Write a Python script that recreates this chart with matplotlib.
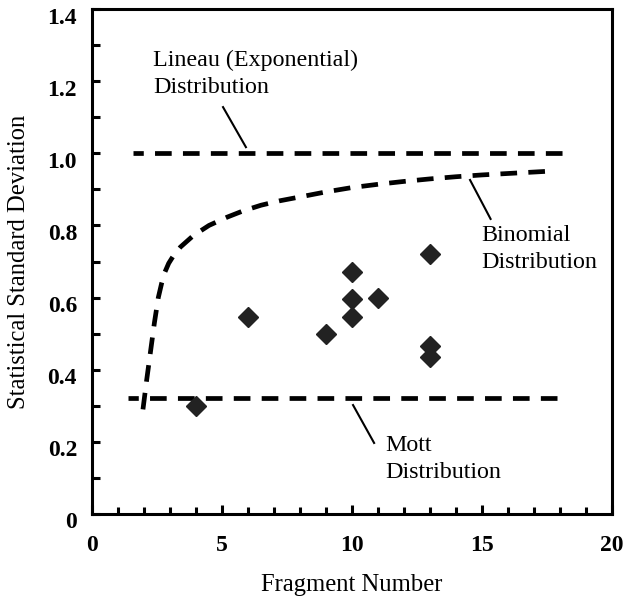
import matplotlib
matplotlib.use("Agg")
import matplotlib.pyplot as plt
from matplotlib.ticker import FixedLocator, MultipleLocator, NullFormatter
from matplotlib.transforms import ScaledTranslation

plt.rcParams['font.family'] = ['Liberation Serif', 'DejaVu Serif']
plt.rcParams['lines.scale_dashes'] = False

# measured fragment data
frag_n = [4, 6, 9, 10, 10, 10, 11, 13, 13, 13]
frag_sd = [0.30, 0.545, 0.50, 0.672, 0.595, 0.545, 0.60, 0.72, 0.465, 0.435]

# binomial distribution curve
binom_n = [1.96, 2.10, 2.25, 2.40, 2.55, 2.68, 2.80, 2.95, 3.15, 3.40, 3.90, 4.50,
           5.20, 5.80, 6.50, 7.20, 8.00, 9.00, 10.0, 11.0, 12.0, 13.0, 14.0, 15.0,
           16.0, 17.5]
binom_sd = [0.29, 0.37, 0.45, 0.53, 0.60, 0.64, 0.67, 0.695, 0.718, 0.74, 0.772, 0.80,
            0.823, 0.84, 0.856, 0.868, 0.879, 0.893, 0.905, 0.914, 0.922, 0.929, 0.935,
            0.940, 0.944, 0.950]

# constant distributions
lineau_n = [1.58, 18.1]
lineau_sd = 1.0
mott_n = [1.38, 17.9]
mott_sd = 0.322

x_ticks = [0, 5, 10, 15, 20]
x_labels = ['0', '5', '10', '15', '20']
y_ticks = [0, 0.2, 0.4, 0.6, 0.8, 1.0, 1.2, 1.4]
y_labels = ['0', '0.2', '0.4', '0.6', '0.8', '1.0', '1.2', '1.4']

fig = plt.figure(figsize=(6.23, 5.96), dpi=100)
ax = fig.add_axes([92 / 623, 82 / 596, 520 / 623, 505 / 596])

dash = (4.6, (12.0, 8.1))
ax.plot(lineau_n, [lineau_sd] * 2, color='black', lw=3.4, linestyle=dash,
        dash_capstyle='butt')
ax.plot(mott_n, [mott_sd] * 2, color='black', lw=3.4, linestyle=dash,
        dash_capstyle='butt')
ax.plot(binom_n, binom_sd, color='black', lw=3.4, linestyle=(0, (12.0, 8.1)),
        dash_capstyle='butt')
ax.plot(frag_n, frag_sd, linestyle='none', marker='D', ms=9.7,
        color='#222222', zorder=5)

# labels with leader lines
txt = dict(fontsize=17.3, ha='left', va='top', linespacing=1.37)
ax.text(2.35, 1.286, 'Lineau (Exponential)\nDistribution', **txt)
ax.plot([5.04, 5.92], [1.128, 1.017], color='black', lw=1.5)
ax.text(14.96, 0.801, 'Binomial\nDistribution', **txt)
ax.plot([14.54, 15.33], [0.926, 0.818], color='black', lw=1.5)
ax.text(11.27, 0.219, 'Mott\nDistribution', **txt)
ax.plot([10.04, 10.85], [0.302, 0.197], color='black', lw=1.5)

ax.set_xlim(0, 20)
ax.set_ylim(0, 1.4)
ax.xaxis.set_major_locator(FixedLocator(x_ticks))
ax.xaxis.set_minor_locator(MultipleLocator(1))
ax.yaxis.set_major_locator(FixedLocator(y_ticks))
ax.yaxis.set_minor_locator(MultipleLocator(0.1))
ax.set_xticklabels(x_labels, fontsize=17, fontweight='bold')
ax.yaxis.set_major_formatter(NullFormatter())

# y tick labels drawn by hand, sitting a little below their ticks
ylab_tr = ax.get_yaxis_transform() + ScaledTranslation(-0.15, -0.065, fig.dpi_scale_trans)
for yv, lab in zip(y_ticks, y_labels):
    ax.text(0, yv, lab, transform=ylab_tr, ha='right', va='center_baseline',
            fontsize=17, fontweight='bold')

ax.tick_params(which='both', direction='in', width=2.2, top=False, right=False)
ax.tick_params(axis='x', which='major', length=6.5, pad=15)
ax.tick_params(axis='x', which='minor', length=5)
ax.tick_params(axis='y', which='both', length=5.8)

for s in ax.spines.values():
    s.set_linewidth(2.2)

ax.set_xlabel('Fragment Number', fontsize=17.7, labelpad=13)
ax.set_ylabel('Statistical Standard Deviation', fontsize=17.7)
ax.yaxis.set_label_coords(-0.119, 0.5)

fig.savefig('out.png', dpi=100)
